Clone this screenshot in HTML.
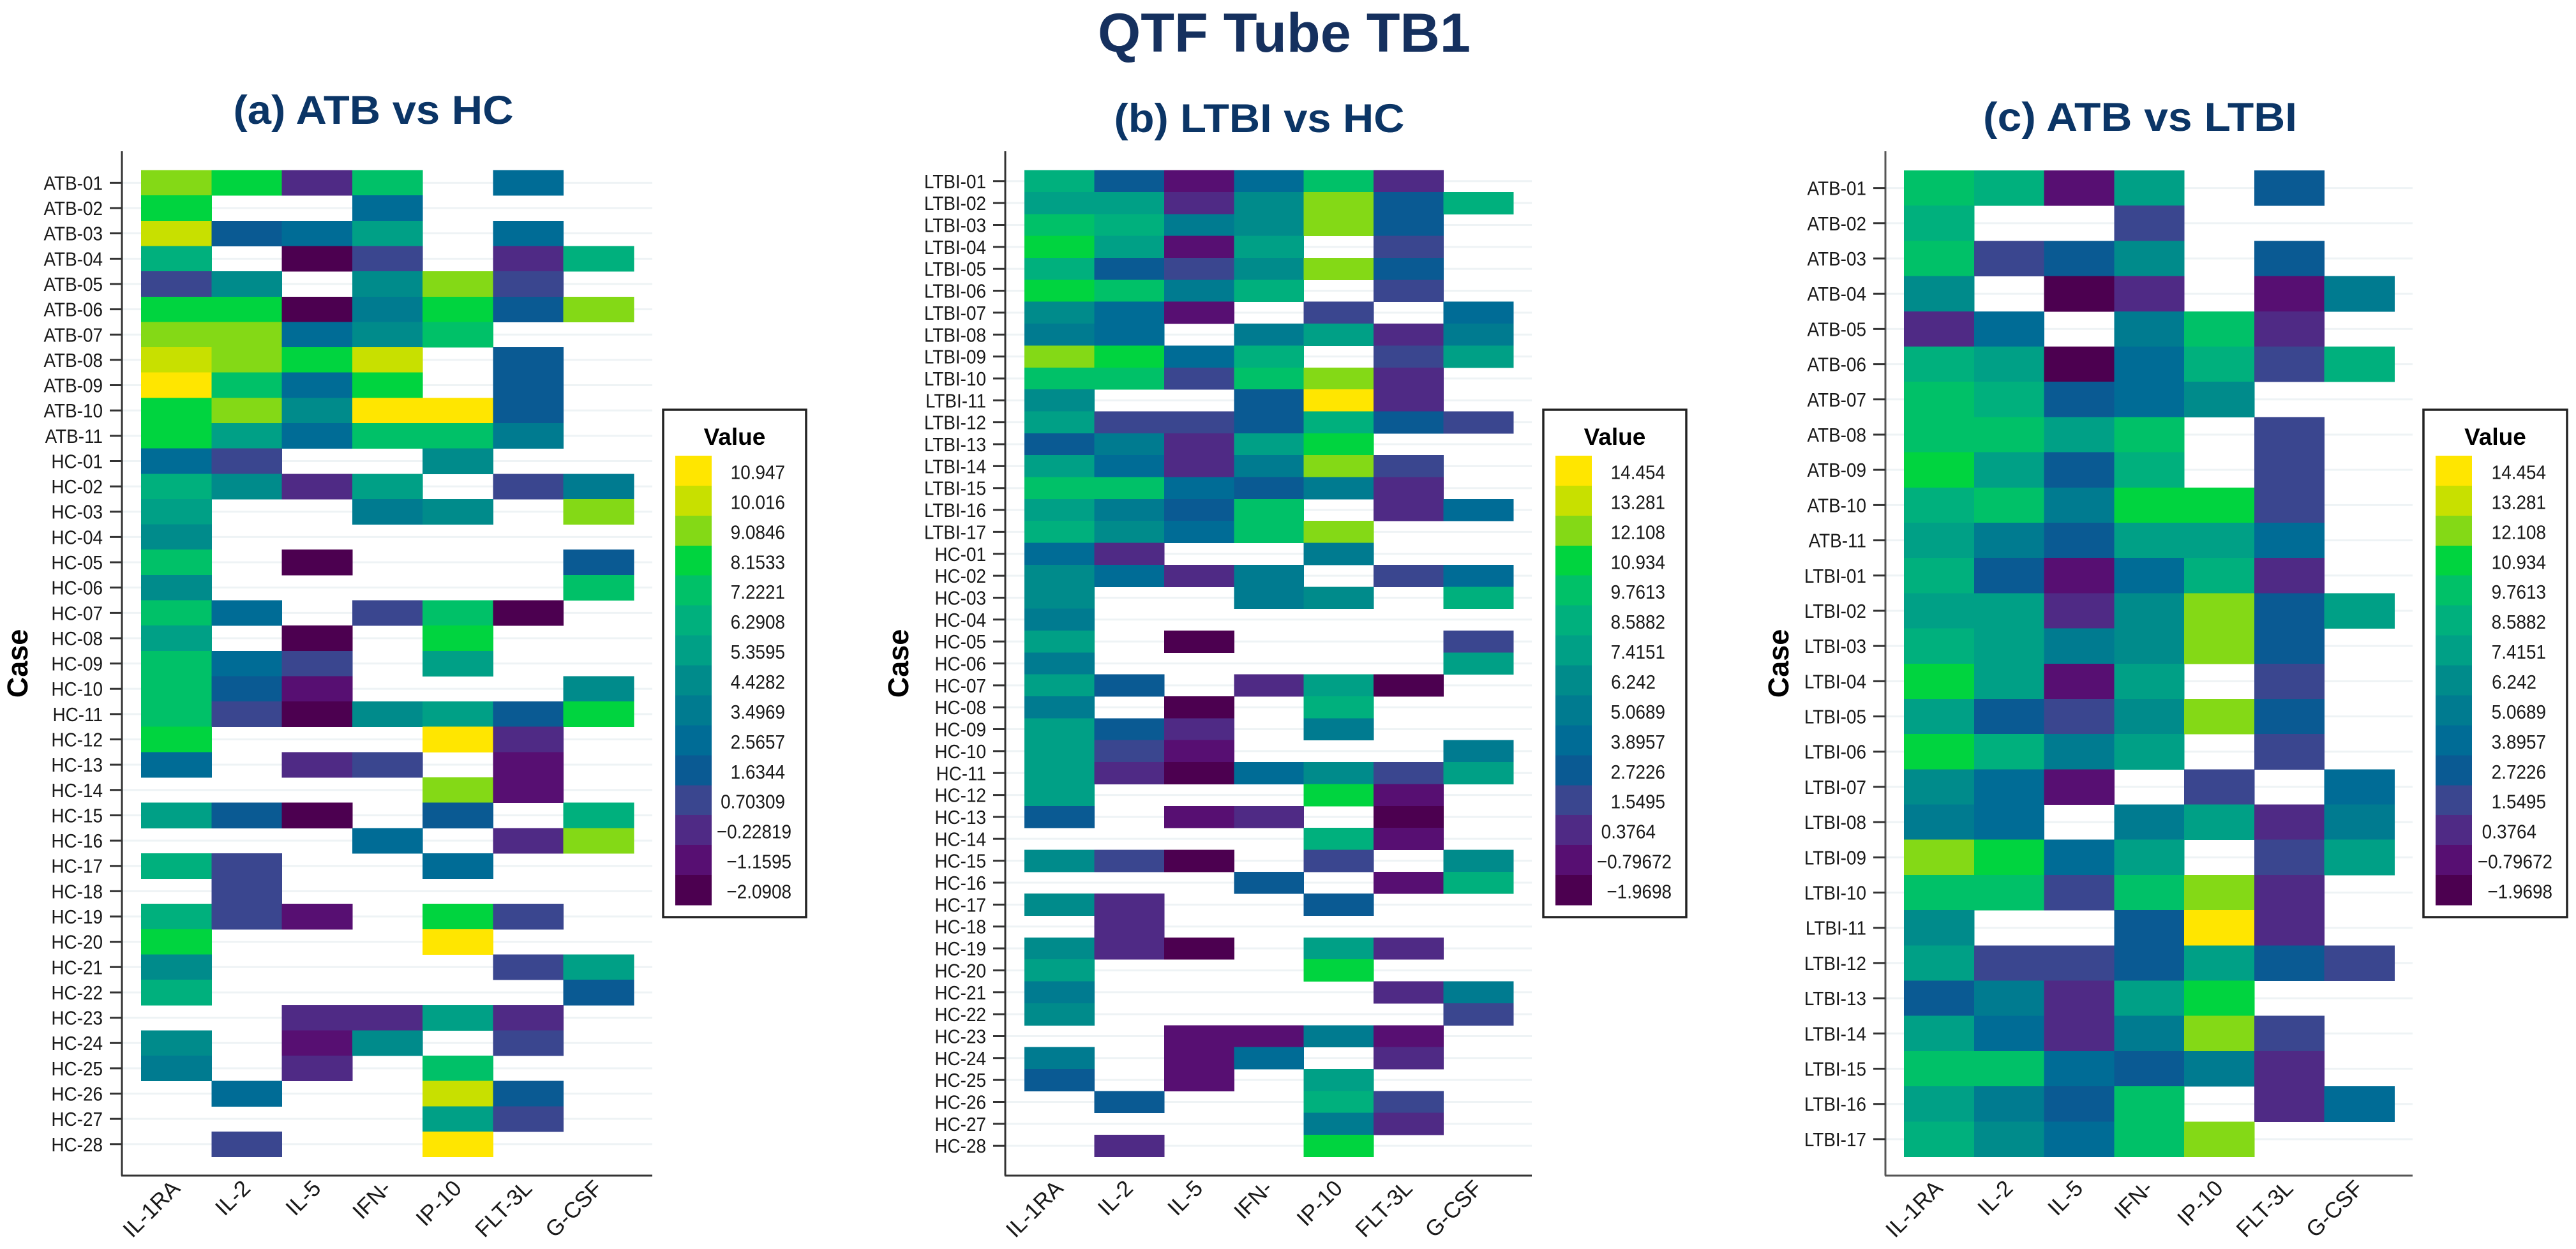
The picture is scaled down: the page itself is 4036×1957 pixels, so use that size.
<!DOCTYPE html>
<html lang="en">
<head>
<meta charset="utf-8">
<title>QTF Tube TB1</title>
<style>
html,body{margin:0;padding:0;background:#fff;}
svg{display:block;font-family:"Liberation Sans",Arial,sans-serif;}
</style>
</head>
<body>
<svg id="figure" xmlns="http://www.w3.org/2000/svg" width="4036" height="1957" viewBox="0 0 4036 1957">
  <rect x="0" y="0" width="4036" height="1957" fill="#ffffff"/>
  <text x="2012" y="81" text-anchor="middle" font-size="86" font-weight="700" fill="#15305e" textLength="584" lengthAdjust="spacingAndGlyphs">QTF Tube TB1</text>
  <text x="585" y="194" text-anchor="middle" font-size="63" font-weight="700" fill="#0b3566" textLength="439" lengthAdjust="spacingAndGlyphs">(a) ATB vs HC</text>
  <text x="1973" y="207" text-anchor="middle" font-size="63" font-weight="700" fill="#0b3566" textLength="455" lengthAdjust="spacingAndGlyphs">(b) LTBI vs HC</text>
  <text x="3353" y="205" text-anchor="middle" font-size="63" font-weight="700" fill="#0b3566" textLength="492" lengthAdjust="spacingAndGlyphs">(c) ATB vs LTBI</text>
  <g id="panel-a"></g>
  <g id="panel-b"></g>
  <g id="panel-c"></g>
</svg>
<script>
const _ = null;
const categories = ["IL-1RA","IL-2","IL-5","IFN-","IP-10","FLT-3L","G-CSF"];
const palette = ["#4c0050","#570f72","#4f2a85","#3a468f","#0a5a93","#006c96","#007b90","#008b8b","#00a086","#00b07d","#00c168","#00d43f","#84d916","#c8e000","#ffe600"];

const legendTicksA = ["10.947","10.016","9.0846","8.1533","7.2221","6.2908","5.3595","4.4282","3.4969","2.5657","1.6344","0.70309","-0.22819","-1.1595","-2.0908"];
const legendTicksBC = ["14.454","13.281","12.108","10.934","9.7613","8.5882","7.4151","6.242","5.0689","3.8957","2.7226","1.5495","0.3764","-0.79672","-1.9698"];

const casesA = ["ATB-01","ATB-02","ATB-03","ATB-04","ATB-05","ATB-06","ATB-07","ATB-08","ATB-09","ATB-10","ATB-11","HC-01","HC-02","HC-03","HC-04","HC-05","HC-06","HC-07","HC-08","HC-09","HC-10","HC-11","HC-12","HC-13","HC-14","HC-15","HC-16","HC-17","HC-18","HC-19","HC-20","HC-21","HC-22","HC-23","HC-24","HC-25","HC-26","HC-27","HC-28"];
const casesB = ["LTBI-01","LTBI-02","LTBI-03","LTBI-04","LTBI-05","LTBI-06","LTBI-07","LTBI-08","LTBI-09","LTBI-10","LTBI-11","LTBI-12","LTBI-13","LTBI-14","LTBI-15","LTBI-16","LTBI-17","HC-01","HC-02","HC-03","HC-04","HC-05","HC-06","HC-07","HC-08","HC-09","HC-10","HC-11","HC-12","HC-13","HC-14","HC-15","HC-16","HC-17","HC-18","HC-19","HC-20","HC-21","HC-22","HC-23","HC-24","HC-25","HC-26","HC-27","HC-28"];
const casesC = ["ATB-01","ATB-02","ATB-03","ATB-04","ATB-05","ATB-06","ATB-07","ATB-08","ATB-09","ATB-10","ATB-11","LTBI-01","LTBI-02","LTBI-03","LTBI-04","LTBI-05","LTBI-06","LTBI-07","LTBI-08","LTBI-09","LTBI-10","LTBI-11","LTBI-12","LTBI-13","LTBI-14","LTBI-15","LTBI-16","LTBI-17"];

const valuesA = [
[9.1,8.2,-.2,7.2,_,2.6,_],
[8.2,_,_,2.6,_,_,_],
[10,1.6,2.6,5.4,_,2.6,_],
[6.3,_,-2.1,.7,_,-.2,6.3],
[.7,4.4,_,4.4,9.1,.7,_],
[8.2,8.2,-2.1,3.5,8.2,1.6,9.1],
[9.1,9.1,2.6,4.4,7.2,_,_],
[10,9.1,8.2,10,_,1.6,_],
[10.9,7.2,2.6,8.2,_,1.6,_],
[8.2,9.1,4.4,10.9,10.9,1.6,_],
[8.2,5.4,2.6,7.2,7.2,3.5,_],
[2.6,.7,_,_,4.4,_,_],
[6.3,4.4,-.2,5.4,_,.7,3.5],
[5.4,_,_,3.5,4.4,_,9.1],
[4.4,_,_,_,_,_,_],
[7.2,_,-2.1,_,_,_,1.6],
[4.4,_,_,_,_,_,7.2],
[7.2,2.6,_,.7,7.2,-2.1,_],
[5.4,_,-2.1,_,8.2,_,_],
[7.2,2.6,.7,_,5.4,_,_],
[7.2,1.6,-1.2,_,_,_,4.4],
[7.2,.7,-2.1,4.4,5.4,1.6,8.2],
[8.2,_,_,_,10.9,-.2,_],
[2.6,_,-.2,.7,_,-1.2,_],
[_,_,_,_,9.1,-1.2,_],
[5.4,1.6,-2.1,_,1.6,_,6.3],
[_,_,_,2.6,_,-.2,9.1],
[6.3,.7,_,_,2.6,_,_],
[_,.7,_,_,_,_,_],
[6.3,.7,-1.2,_,8.2,.7,_],
[8.2,_,_,_,10.9,_,_],
[4.4,_,_,_,_,.7,5.4],
[6.3,_,_,_,_,_,1.6],
[_,_,-.2,-.2,5.4,-.2,_],
[4.4,_,-1.2,4.4,_,.7,_],
[3.5,_,-.2,_,7.2,_,_],
[_,2.6,_,_,10,1.6,_],
[_,_,_,_,5.4,.7,_],
[_,.7,_,_,10.9,_,_]
];

const valuesB = [
[8.6,2.7,-.8,3.9,9.8,.4,_],
[7.4,7.4,.4,6.2,12.1,2.7,8.6],
[9.8,8.6,5.1,6.2,12.1,2.7,_],
[10.9,7.4,-.8,7.4,_,1.5,_],
[8.6,2.7,1.5,6.2,12.1,2.7,_],
[10.9,9.8,5.1,8.6,_,1.5,_],
[6.2,3.9,-.8,_,1.5,_,3.9],
[5.1,3.9,_,5.1,7.4,.4,5.1],
[12.1,10.9,3.9,8.6,_,1.5,7.4],
[9.8,9.8,1.5,9.8,12.1,.4,_],
[6.2,_,_,2.7,14.5,.4,_],
[7.4,1.5,1.5,2.7,8.6,2.7,1.5],
[2.7,5.1,.4,7.4,10.9,_,_],
[7.4,3.9,.4,5.1,12.1,1.5,_],
[9.8,9.8,3.9,2.7,5.1,.4,_],
[7.4,5.1,2.7,9.8,_,.4,3.9],
[8.6,6.2,3.9,9.8,12.1,_,_],
[3.9,.4,_,_,5.1,_,_],
[6.2,3.9,.4,5.1,_,1.5,3.9],
[6.2,_,_,5.1,6.2,_,8.6],
[5.1,_,_,_,_,_,_],
[7.4,_,-2,_,_,_,1.5],
[5.1,_,_,_,_,_,7.4],
[7.4,2.7,_,.4,7.4,-2,_],
[5.1,_,-2,_,8.6,_,_],
[7.4,2.7,.4,_,5.1,_,_],
[7.4,1.5,-.8,_,_,_,5.1],
[7.4,.4,-2,3.9,6.2,1.5,7.4],
[7.4,_,_,_,10.9,-.8,_],
[2.7,_,-.8,.4,_,-2,_],
[_,_,_,_,8.6,-.8,_],
[6.2,1.5,-2,_,1.5,_,6.2],
[_,_,_,2.7,_,-.8,8.6],
[6.2,.4,_,_,2.7,_,_],
[_,.4,_,_,_,_,_],
[6.2,.4,-2,_,7.4,.4,_],
[7.4,_,_,_,10.9,_,_],
[5.1,_,_,_,_,.4,5.1],
[6.2,_,_,_,_,_,1.5],
[_,_,-.8,-.8,5.1,-.8,_],
[5.1,_,-.8,3.9,_,.4,_],
[2.7,_,-.8,_,7.4,_,_],
[_,2.7,_,_,8.6,1.5,_],
[_,_,_,_,5.1,.4,_],
[_,.4,_,_,10.9,_,_]
];

const valuesC = [
[9.8,8.6,-.8,7.4,_,2.7,_],
[8.6,_,_,1.5,_,_,_],
[9.8,1.5,2.7,6.2,_,2.7,_],
[6.2,_,-2,.4,_,-.8,5.1],
[.4,3.9,_,5.1,9.8,.4,_],
[8.6,7.4,-2,3.9,8.6,1.5,8.6],
[9.8,8.6,2.7,3.9,6.2,_,_],
[9.8,9.8,7.4,9.8,_,1.5,_],
[10.9,7.4,2.7,8.6,_,1.5,_],
[8.6,9.8,5.1,10.9,10.9,1.5,_],
[7.4,5.1,2.7,7.4,7.4,3.9,_],
[8.6,2.7,-.8,3.9,8.6,.4,_],
[7.4,7.4,.4,6.2,12.1,2.7,7.4],
[8.6,7.4,5.1,6.2,12.1,2.7,_],
[10.9,7.4,-.8,7.4,_,1.5,_],
[7.4,2.7,1.5,6.2,12.1,2.7,_],
[10.9,8.6,5.1,7.4,_,1.5,_],
[6.2,3.9,-.8,_,1.5,_,3.9],
[5.1,3.9,_,5.1,7.4,.4,5.1],
[12.1,10.9,3.9,7.4,_,1.5,7.4],
[9.8,9.8,1.5,9.8,12.1,.4,_],
[6.2,_,_,2.7,14.5,.4,_],
[7.4,1.5,1.5,2.7,7.4,2.7,1.5],
[2.7,5.1,.4,7.4,10.9,_,_],
[7.4,3.9,.4,5.1,12.1,1.5,_],
[9.8,9.8,3.9,2.7,5.1,.4,_],
[7.4,5.1,2.7,9.8,_,.4,3.9],
[8.6,6.2,3.9,9.8,12.1,_,_]
];

const SVG_NS = "http://www.w3.org/2000/svg";
function node(parent, tag, attrs, content){
  const el = document.createElementNS(SVG_NS, tag);
  for (const k in attrs) el.setAttribute(k, attrs[k]);
  if (content !== undefined) el.textContent = content;
  parent.appendChild(el);
  return el;
}
function prettyTick(s){ return s.replace("-", "\u2212"); }
function slug(s){ return s.toLowerCase().replace(/[^a-z0-9]+/g, "-").replace(/-$/, ""); }

function drawHeatmap(root, cases, values, ticks, g){
  const xOf = i => g.cellLeft + i * (g.cellRight - g.cellLeft) / categories.length;
  const rowStep = (g.lastRow - g.firstRow) / (cases.length - 1);
  const yOf = j => g.firstRow + j * rowStep;
  const lo = parseFloat(ticks[ticks.length - 1]);
  const hi = parseFloat(ticks[0]);
  const step = (hi - lo) / (ticks.length - 1);
  const colorOf = v => palette[Math.max(0, Math.min(palette.length - 1, Math.round((v - lo) / step)))];

  cases.forEach((c, j) => {
    const grid = node(root, "line", {x1: g.axisX, x2: g.axisRight, y1: yOf(j), y2: yOf(j), stroke: "#eef3f5", "stroke-width": 3});
    
    
  });

  values.forEach((row, j) => {
    row.forEach((v, i) => {
      if (v === null) return;
      const cell = node(root, "rect", {
        x: xOf(i), y: yOf(j) - rowStep / 2,
        width: xOf(i + 1) - xOf(i) + 0.5, height: rowStep + 0.5,
        fill: colorOf(v), "shape-rendering": "crispEdges"
      });
      
      
    });
  });

  const yAxis = node(root, "line", {x1: g.axisX, x2: g.axisX, y1: g.axisTop, y2: g.axisBottom, stroke: g.axisColor, "stroke-width": 3});
  
  
  const xAxis = node(root, "line", {x1: g.axisX - 1, x2: g.axisRight, y1: g.axisBottom, y2: g.axisBottom, stroke: g.axisColor, "stroke-width": 3});
  
  

  cases.forEach((c, j) => {
    const tick = node(root, "line", {x1: g.axisX - 19, x2: g.axisX, y1: yOf(j), y2: yOf(j), stroke: "#333", "stroke-width": 3});
    
    
    const label = node(root, "text", {
      transform: "translate(" + (g.axisX - 30) + "," + (yOf(j) + 11) + ") scale(.9,1)",
      "text-anchor": "end", "font-size": 31, fill: "#1a1a1a"
    }, c);
    
    
  });

  categories.forEach((c, i) => {
    const cx = (xOf(i) + xOf(i + 1)) / 2;
    const label = node(root, "text", {
      transform: "translate(" + (cx + 8) + "," + (g.axisBottom + 22) + ") rotate(-45)",
      "text-anchor": "end", "font-size": 35, fill: "#1a1a1a"
    }, c);
    
    
  });

  const yTitle = node(root, "text", {
    transform: "translate(" + g.caseX + "," + ((g.axisTop + g.axisBottom) / 2) + ") rotate(-90)",
    "text-anchor": "middle", "font-size": 45, "font-weight": 700, fill: "#000"
  }, "Case");
  
  

  const legend = node(root, "rect", {x: g.legendLeft, y: 642, width: g.legendRight - g.legendLeft, height: 795, fill: "#fff", stroke: "#222", "stroke-width": 3.5});
  
  
  const legendTitle = node(root, "text", {
    x: (g.legendLeft + g.legendRight) / 2, y: 697, "text-anchor": "middle",
    "font-size": 37, "font-weight": 700, fill: "#000"
  }, "Value");
  
  

  const bandH = (1418 - 714) / ticks.length;
  const trailingZeroDropped = ["6.242", "0.3764"];
  ticks.forEach((t, k) => {
    const band = node(root, "rect", {
      x: g.barLeft, y: 714 + k * bandH, width: 57, height: bandH + 0.5,
      fill: colorOf(parseFloat(t)), "shape-rendering": "crispEdges"
    });
    
    
    let right = g.labelRight;
    if (t.charAt(0) === "-") right += 10;
    if (trailingZeroDropped.indexOf(t) >= 0) right -= 15;
    const tl = node(root, "text", {
      transform: "translate(" + right + "," + (714 + (k + 0.5) * bandH + 13) + ") scale(.9,1)",
      "text-anchor": "end", "font-size": 31, fill: "#1a1a1a"
    }, prettyTick(t));
    
    
  });
}

drawHeatmap(document.getElementById("panel-a"), casesA, valuesA, legendTicksA, {
  axisX: 191, axisRight: 1022, axisTop: 237, axisBottom: 1842, axisColor: "#333",
  cellLeft: 221, cellRight: 993, firstRow: 286.4, lastRow: 1792.8, caseX: 43,
  legendLeft: 1039, legendRight: 1263, barLeft: 1058, labelRight: 1230
});
drawHeatmap(document.getElementById("panel-b"), casesB, valuesB, legendTicksBC, {
  axisX: 1575, axisRight: 2400, axisTop: 237, axisBottom: 1842, axisColor: "#333",
  cellLeft: 1605, cellRight: 2371, firstRow: 283.8, lastRow: 1795.2, caseX: 1423,
  legendLeft: 2418, legendRight: 2642, barLeft: 2437, labelRight: 2609
});
drawHeatmap(document.getElementById("panel-c"), casesC, valuesC, legendTicksBC, {
  axisX: 2954, axisRight: 3780, axisTop: 237, axisBottom: 1842, axisColor: "#555",
  cellLeft: 2983, cellRight: 3751.5, firstRow: 294.6, lastRow: 1784.9, caseX: 2802,
  legendLeft: 3797, legendRight: 4022, barLeft: 3816, labelRight: 3989
});
</script>
</body>
</html>
